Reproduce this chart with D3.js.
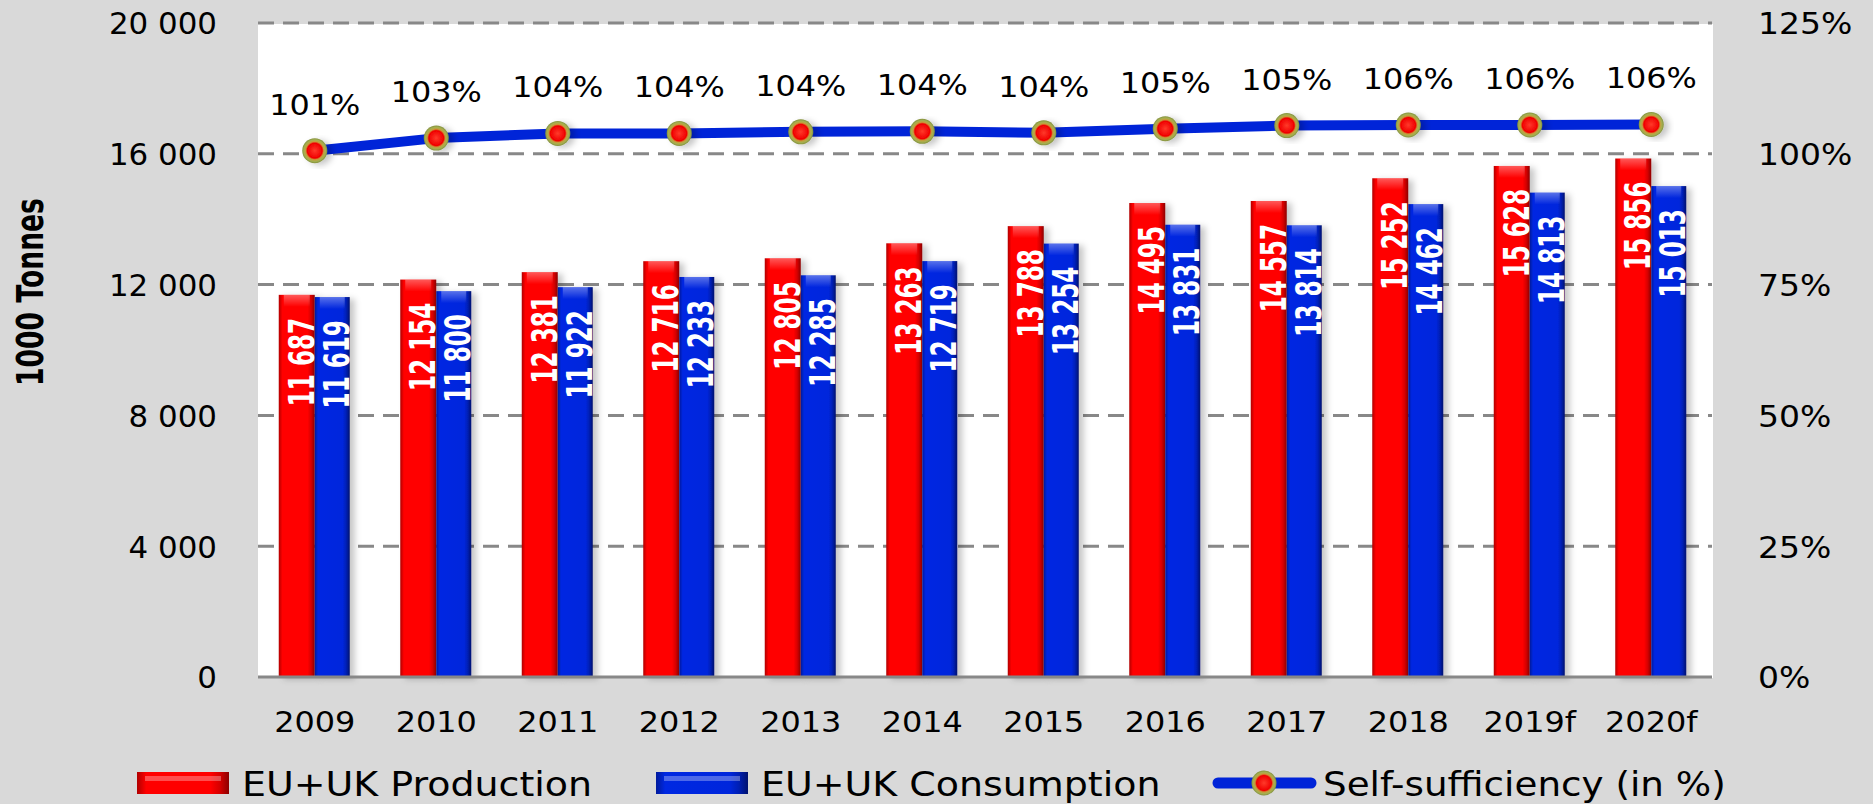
<!DOCTYPE html>
<html>
<head>
<meta charset="utf-8">
<script src="https://cdn.jsdelivr.net/npm/d3@7"></script>
<style>
  body { margin: 0; background: #d9d9d9; }
  svg { display: block; }
</style>
</head>
<body>
<svg></svg>
<script>
// data
const years = ["2009", "2010", "2011", "2012", "2013", "2014", "2015", "2016", "2017", "2018", "2019f", "2020f"];
const production = [11687, 12154, 12381, 12716, 12805, 13263, 13788, 14495, 14557, 15252, 15628, 15856];
const consumption = [11619, 11800, 11922, 12233, 12285, 12719, 13254, 13831, 13814, 14462, 14813, 15013];
const selfSufficiency = [100.6, 103.0, 103.9, 103.9, 104.2, 104.3, 104.0, 104.8, 105.4, 105.5, 105.5, 105.6];
const leftTicks = [0, 4000, 8000, 12000, 16000, 20000];
const rightTicks = [0, 25, 50, 75, 100, 125];
const seriesNames = ["EU+UK Production", "EU+UK Consumption", "Self-sufficiency (in %)"];

const W = 1873, H = 804;
const plot = {left: 254, right: 1712, top: 23, bottom: 677};
const FONT = "'DejaVu Sans', sans-serif";

const svg = d3.select("svg").attr("width", W).attr("height", H);

const x = d3.scaleBand().domain(years).range([plot.left, plot.right]);
const y = d3.scaleLinear().domain([0, 20000]).range([plot.bottom, plot.top]);
const y2 = d3.scaleLinear().domain([0, 125]).range([plot.bottom, plot.top]);
const cx = d => x(d) + x.bandwidth() / 2;

const fmtTonnes = d3.formatLocale({thousands: " ", grouping: [3], decimal: "."}).format(",");

// widen text about its anchor (the reference glyphs are stretched)
function stretch(sel, k) {
  sel.attr("transform", function() {
    const ax = +this.getAttribute("x") || 0;
    return `translate(${ax * (1 - k)},0) scale(${k},1)`;
  });
}

// ---- defs
const defs = svg.append("defs");

function hGrad(id, stops) {
  const g = defs.append("linearGradient").attr("id", id)
    .attr("x1", 0).attr("x2", 1).attr("y1", 0).attr("y2", 0);
  stops.forEach(s => g.append("stop").attr("offset", s[0]).attr("stop-color", s[1]));
}
hGrad("redGrad", [[0, "#b00000"], [0.1, "#ff0000"], [0.8, "#ff0000"], [0.9, "#d60000"], [1, "#8c0000"]]);
hGrad("blueGrad", [[0, "#001a9c"], [0.1, "#0028e2"], [0.8, "#0026dc"], [0.9, "#001fb4"], [1, "#00126e"]]);

const hi = defs.append("linearGradient").attr("id", "capGrad")
  .attr("x1", 0).attr("x2", 0).attr("y1", 0).attr("y2", 1);
hi.append("stop").attr("offset", 0).attr("stop-color", "#fff").attr("stop-opacity", 0.35);
hi.append("stop").attr("offset", 1).attr("stop-color", "#fff").attr("stop-opacity", 0);

const mg = defs.append("radialGradient").attr("id", "markerGrad");
mg.append("stop").attr("offset", 0).attr("stop-color", "#ff3a2a");
mg.append("stop").attr("offset", 0.6).attr("stop-color", "#f00000");
mg.append("stop").attr("offset", 0.72).attr("stop-color", "#c89a3a");
mg.append("stop").attr("offset", 0.86).attr("stop-color", "#a4b050");
mg.append("stop").attr("offset", 1).attr("stop-color", "#84903c");

const shadow = defs.append("filter").attr("id", "shadow")
  .attr("x", "-30%").attr("y", "-10%").attr("width", "170%").attr("height", "130%");
shadow.append("feDropShadow").attr("dx", 5).attr("dy", 2)
  .attr("stdDeviation", 3).attr("flood-color", "#000").attr("flood-opacity", 0.22);

// ---- plot area
svg.append("rect")
  .attr("x", 258).attr("y", plot.top + 1)
  .attr("width", plot.right + 1 - 258).attr("height", plot.bottom - plot.top)
  .attr("fill", "#fff");

svg.append("g").selectAll("line")
  .data(leftTicks.filter(d => d > 0))
  .join("line")
  .attr("x1", 258).attr("x2", plot.right)
  .attr("y1", d => y(d)).attr("y2", d => y(d))
  .attr("stroke", "#888").attr("stroke-width", 3)
  .attr("stroke-dasharray", "16 9");

// ---- bars
const barW = 36;
const bars = svg.append("g");

function drawBars(values, grad, offset, w) {
  const g = bars.append("g");
  g.selectAll("rect.bar")
    .data(values)
    .join("rect")
    .attr("class", "bar")
    .attr("x", (d, i) => cx(years[i]) + offset)
    .attr("y", d => y(d))
    .attr("width", w)
    .attr("height", d => y(0) - y(d))
    .attr("fill", `url(#${grad})`)
    .attr("filter", "url(#shadow)");
  g.selectAll("rect.cap")
    .data(values)
    .join("rect")
    .attr("class", "cap")
    .attr("x", (d, i) => cx(years[i]) + offset + 5)
    .attr("y", d => y(d))
    .attr("width", w - 10)
    .attr("height", 12)
    .attr("fill", "url(#capGrad)");
  // condensed bold labels, read bottom to top
  g.selectAll("text")
    .data(values)
    .join("text")
    .attr("transform", (d, i) => `translate(${cx(years[i]) + offset + w - 1},${y(d) + 23}) rotate(-90) scale(0.66,1)`)
    .attr("text-anchor", "end")
    .attr("font-family", FONT)
    .attr("font-weight", "bold")
    .attr("font-size", 35)
    .attr("fill", "#fff")
    .text(d => fmtTonnes(d));
}
drawBars(production, "redGrad", -barW, barW);
drawBars(consumption, "blueGrad", 0, 35);

// baseline
svg.append("line")
  .attr("x1", 258).attr("x2", plot.right)
  .attr("y1", y(0)).attr("y2", y(0))
  .attr("stroke", "#888").attr("stroke-width", 3);

// ---- self-sufficiency line
const line = d3.line()
  .x((d, i) => cx(years[i]))
  .y(d => y2(d));

svg.append("path")
  .datum(selfSufficiency)
  .attr("d", line)
  .attr("fill", "none")
  .attr("stroke", "#0024d8")
  .attr("stroke-width", 10)
  .attr("stroke-linejoin", "round");

svg.append("g").selectAll("circle")
  .data(selfSufficiency)
  .join("circle")
  .attr("cx", (d, i) => cx(years[i]))
  .attr("cy", d => y2(d))
  .attr("r", 12.5)
  .attr("fill", "url(#markerGrad)")
  .attr("filter", "url(#shadow)");

svg.append("g").selectAll("text")
  .data(selfSufficiency)
  .join("text")
  .attr("x", (d, i) => cx(years[i]))
  .attr("y", d => y2(d) - 36)
  .attr("text-anchor", "middle")
  .attr("font-family", FONT)
  .attr("font-size", 29)
  .attr("fill", "#000")
  .text(d => Math.round(d) + "%")
  .call(stretch, 1.1);

// ---- axes
const styleAxis = g => {
  g.select(".domain").remove();
  g.attr("font-family", FONT).attr("font-size", 30);
  g.selectAll("text").attr("fill", "#000");
};

svg.append("g")
  .attr("transform", "translate(217,0)")
  .call(d3.axisLeft(y).tickValues(leftTicks).tickSize(0).tickPadding(0).tickFormat(fmtTonnes))
  .call(styleAxis)
  .call(g => g.selectAll("text").attr("dy", "0.36em").call(stretch, 1.03));

svg.append("g")
  .attr("transform", "translate(1758,0)")
  .call(d3.axisRight(y2).tickValues(rightTicks).tickSize(0).tickPadding(0).tickFormat(d => d + "%"))
  .call(styleAxis)
  .call(g => g.selectAll("text").attr("dy", "0.36em").call(stretch, 1.1));

svg.append("g")
  .attr("transform", "translate(0,732)")
  .call(d3.axisBottom(x).tickSize(0).tickPadding(0))
  .call(styleAxis)
  .call(g => g.attr("font-size", 29).selectAll("text").attr("dy", 0).call(stretch, 1.1));

svg.append("text")
  .attr("transform", "translate(43,292) rotate(-90) scale(0.7,1)")
  .attr("text-anchor", "middle")
  .attr("font-family", FONT)
  .attr("font-weight", "bold")
  .attr("font-size", 38)
  .attr("fill", "#000")
  .text("1000 Tonnes");

// ---- legend
const legend = svg.append("g");
const legY = 783;

[["redGrad", 137, 242], ["blueGrad", 656, 761]].forEach((s, i) => {
  legend.append("rect")
    .attr("x", s[1]).attr("y", legY - 11)
    .attr("width", 92).attr("height", 22)
    .attr("fill", `url(#${s[0]})`);
  legend.append("rect")
    .attr("x", s[1] + 8).attr("y", legY - 7)
    .attr("width", 76).attr("height", 5)
    .attr("fill", "#fff").attr("opacity", 0.3);
  legend.append("text")
    .attr("x", s[2]).attr("y", 796)
    .attr("font-family", FONT).attr("font-size", 33)
    .text(seriesNames[i])
    .call(stretch, 1.15);
});

legend.append("line")
  .attr("x1", 1218).attr("x2", 1311)
  .attr("y1", legY).attr("y2", legY)
  .attr("stroke", "#0024d8").attr("stroke-width", 11)
  .attr("stroke-linecap", "round");
legend.append("circle")
  .attr("cx", 1264).attr("cy", legY).attr("r", 12.5)
  .attr("fill", "url(#markerGrad)");
legend.append("text")
  .attr("x", 1323).attr("y", 796)
  .attr("font-family", FONT).attr("font-size", 33)
  .text(seriesNames[2])
  .call(stretch, 1.13);
</script>
</body>
</html>
